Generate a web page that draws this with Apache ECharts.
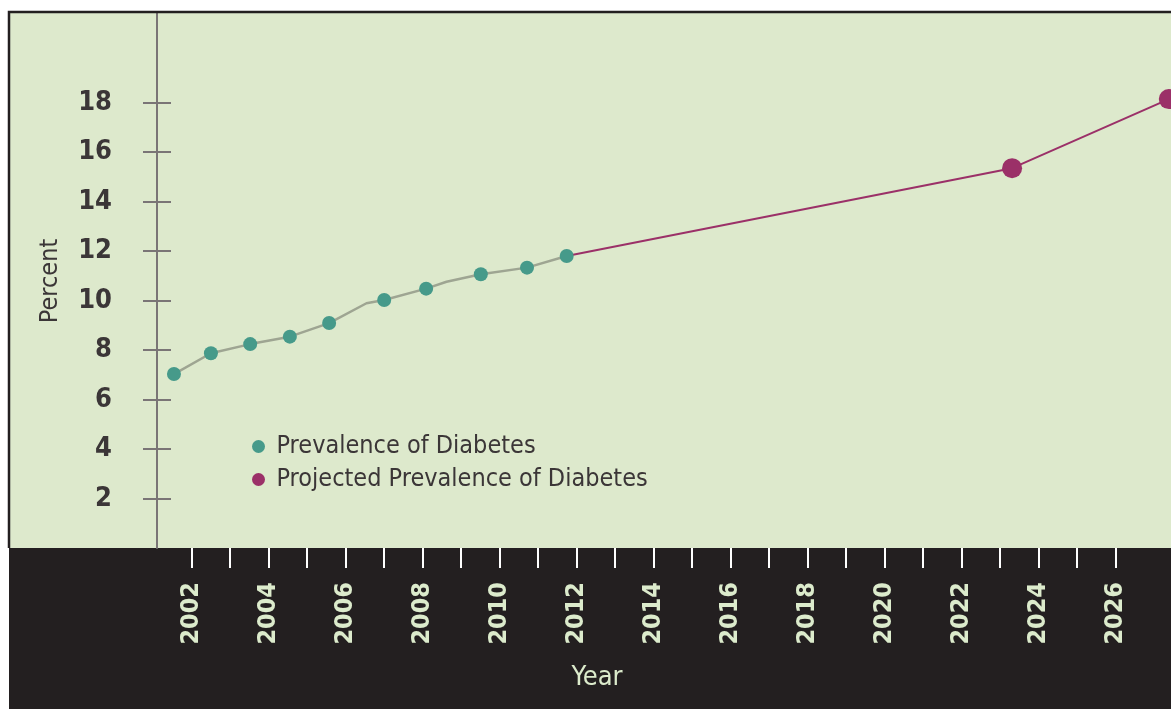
<!DOCTYPE html>
<html>
<head>
<meta charset="utf-8">
<script src="https://cdn.jsdelivr.net/npm/echarts@6/dist/echarts.min.js"></script>
<style>
  html, body { margin: 0; padding: 0; background: #fff; }
  #main { width: 1171px; height: 709px; }
</style>
</head>
<body>
<div id="main"></div>
<script>
// measured data (year, percent); unmarked entries are bends of the line
var prevYears  = [2001.54, 2002.5, 2003.52, 2004.55, 2005.57, 2006.54, 2007.0, 2008.09, 2008.62, 2009.51, 2010.71, 2011.74];
var prevValues = [7.03, 7.87, 8.24, 8.54, 9.09, 9.89, 10.02, 10.48, 10.76, 11.06, 11.33, 11.8];
var prevMarked = [true, true, true, true, true, false, true, true, false, true, true, true];

var projYears  = [2011.74, 2023.31, 2027.38];
var projValues = [11.8, 15.35, 18.14];
var projMarked = [false, true, true];

// tick labels
var yearTicks  = [];
for (var y = 2002; y <= 2026; y++) yearTicks.push(y);
var yearLabels = [2002, 2004, 2006, 2008, 2010, 2012, 2014, 2016, 2018, 2020, 2022, 2024, 2026];
var pctTicks   = [2, 4, 6, 8, 10, 12, 14, 16, 18];

var cond = '"DejaVu Sans Condensed", "Liberation Sans Narrow", "Liberation Sans", sans-serif';

function pts(xs, ys, marks) {
    var out = [];
    for (var i = 0; i < xs.length; i++) {
        var d = { value: [xs[i], ys[i]] };
        if (!marks[i]) d.symbol = 'none';
        out.push(d);
    }
    return out;
}

var myChart = echarts.init(document.getElementById('main'));

var option = {
    animation: false,
    backgroundColor: '#ffffff',
    grid: {
        left: 10, right: 0, top: 13, bottom: 161,
        show: true, backgroundColor: '#dde9cc', borderWidth: 0
    },
    graphic: [
        // dark band under the plot
        { type: 'rect', z: -1, silent: true,
          shape: { x: 9, y: 547, width: 1162, height: 162 },
          style: { fill: '#231f20' } },
        // top and left frame
        { type: 'polyline', z: 10, silent: true,
          shape: { points: [[9, 548], [9, 12], [1171, 12]] },
          style: { stroke: '#231f20', lineWidth: 2.5, fill: null } },
        { type: 'text', silent: true, x: 597, y: 678,
          style: { text: 'Year', font: '27px ' + cond, fill: '#dcebcc',
                   align: 'center', verticalAlign: 'middle' } },
        { type: 'text', silent: true, x: 50, y: 281, rotation: Math.PI / 2,
          style: { text: 'Percent', font: '25px ' + cond, fill: '#3b3637',
                   align: 'center', verticalAlign: 'middle' } }
    ],
    legend: {
        orient: 'vertical',
        left: 247, top: 429,
        itemWidth: 26, itemHeight: 13, itemGap: 8,
        icon: 'circle',
        textStyle: { fontFamily: cond, fontSize: 25, color: '#3b3637' },
        data: ['Prevalence of Diabetes', 'Projected Prevalence of Diabetes']
    },
    xAxis: {
        type: 'value',
        min: 1997.281, max: 2027.437,
        splitLine: { show: false },
        axisLine: { show: false },
        axisTick: {
            show: true, length: 20, inside: false,
            customValues: yearTicks,
            lineStyle: { color: '#ffffff', width: 2 }
        },
        axisLabel: {
            customValues: yearLabels,
            rotate: 90, margin: 34,
            fontFamily: cond, fontWeight: 'bold', fontSize: 25,
            color: '#dcebcc',
            formatter: function (v) { return String(v); }
        }
    },
    yAxis: [{
        type: 'value',
        position: 'left',
        min: 0, max: 21.62,
        offset: -147,
        splitLine: { show: false },
        axisLine: { show: true, lineStyle: { color: '#7a7576', width: 2 } },
        axisTick: { show: true, length: 14, customValues: pctTicks,
                    lineStyle: { color: '#7a7576', width: 2 } },
        axisLabel: { customValues: pctTicks, margin: 45,
                     fontFamily: cond, fontWeight: 'bold', fontSize: 27, color: '#3b3637' }
    }, {
        type: 'value',
        position: 'left',
        min: 0, max: 21.62,
        offset: -147,
        splitLine: { show: false },
        axisLine: { show: false },
        axisTick: { show: true, inside: true, length: 14, customValues: pctTicks,
                    lineStyle: { color: '#7a7576', width: 2 } },
        axisLabel: { show: false }
    }],
    series: [{
        name: 'Prevalence of Diabetes',
        type: 'line',
        data: pts(prevYears, prevValues, prevMarked),
        symbol: 'circle', symbolSize: 14,
        itemStyle: { color: '#469a8a' },
        lineStyle: { color: '#9ea592', width: 2.5 },
        z: 3
    }, {
        name: 'Projected Prevalence of Diabetes',
        type: 'line',
        data: pts(projYears, projValues, projMarked),
        symbol: 'circle', symbolSize: 20,
        itemStyle: { color: '#9b3068' },
        lineStyle: { color: '#9b3068', width: 2 },
        clip: false,
        z: 2
    }]
};

option && myChart.setOption(option);
</script>
</body>
</html>
